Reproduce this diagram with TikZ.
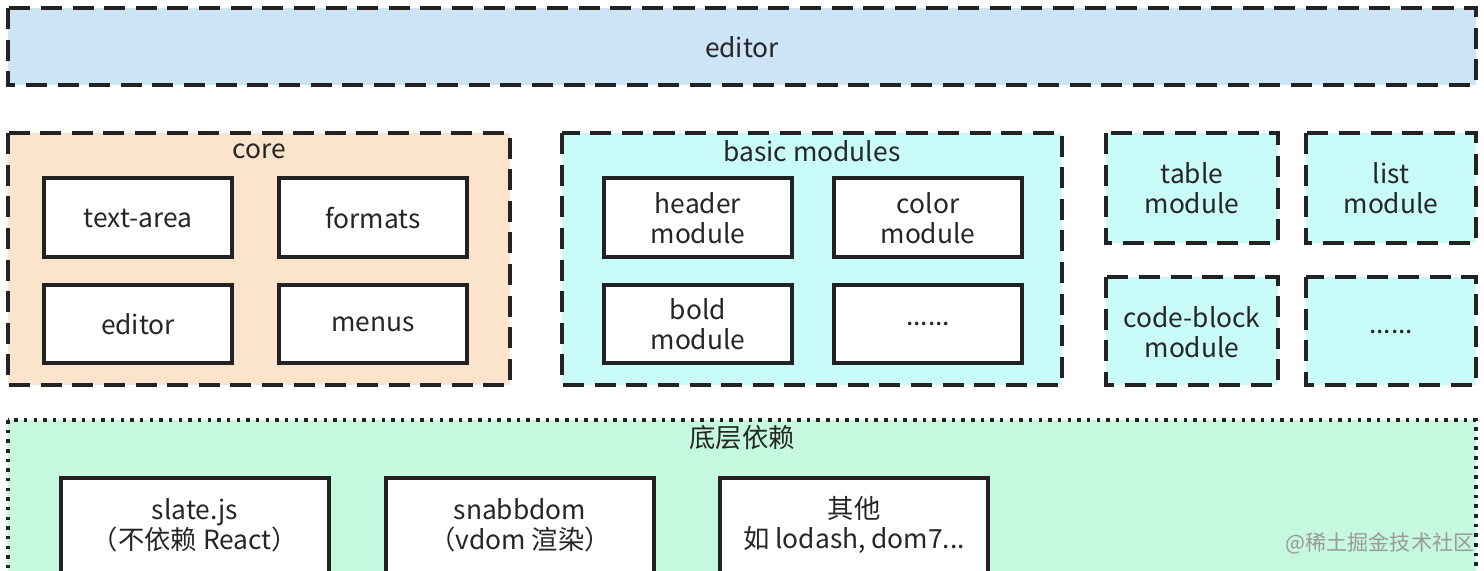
\documentclass[tikz,border=0pt]{standalone}
\usepackage{fontspec}
\setmainfont{Noto Sans CJK SC}
\usetikzlibrary{positioning}
\definecolor{edblue}{HTML}{CDE3F6}
\definecolor{corebg}{HTML}{FCE3CC}
\definecolor{modbg}{HTML}{C9FBF8}
\definecolor{depbg}{HTML}{C6F8E0}
\definecolor{linedark}{HTML}{222222}
\begin{document}
\begin{tikzpicture}[
    x=0.02cm, y=-0.02cm,
    group/.style={draw=linedark, line width=2pt, dash pattern=on 12pt off 6pt},
    dotgroup/.style={draw=linedark, line width=2pt, dash pattern=on 2pt off 3.5pt},
    box/.style={draw=linedark, fill=white, line width=1.8pt},
    txt/.style={align=center, font=\fontsize{15}{17}\selectfont, text=black!85}
]
\useasboundingbox[fill=white] (0,0) rectangle (1484,571);
% editor layer
\draw[group, fill=edblue] (8,8) rectangle (1476,85);
\node[txt] (editor) at (742,47) {editor};

% core
\draw[group, fill=corebg] (8,133) rectangle (510,385);
\node[txt] (core) at (259,151) {core};
\draw[box] (44,178) rectangle (232,257);
\node[txt] (textarea) at (138,218) {text-area};
\draw[box] (279,178) rectangle (467,257);
\node[txt] (formats) at (373,218) {formats};
\draw[box] (44,285) rectangle (232,363);
\node[txt] (coreeditor) at (138,324) {editor};
\draw[box] (279,285) rectangle (467,363);
\node[txt] (menus) at (373,324) {menus};

% basic modules
\draw[group, fill=modbg] (562,133) rectangle (1062,385);
\node[txt] (basic) at (812,151) {basic modules};
\draw[box] (604,178) rectangle (792,257);
\node[txt] (header) at (698,218) {header\\module};
\draw[box] (834,178) rectangle (1022,257);
\node[txt] (color) at (928,218) {color\\module};
\draw[box] (604,285) rectangle (792,363);
\node[txt] (bold) at (698,324) {bold\\module};
\draw[box] (834,285) rectangle (1022,363);
\node[txt] (moremods) at (928,324) {......};

% other modules
\draw[group, fill=modbg] (1106,133) rectangle (1278,243);
\node[txt] (table) at (1192,188) {table\\module};
\draw[group, fill=modbg] (1306,133) rectangle (1476,243);
\node[txt] (list) at (1391,188) {list\\module};
\draw[group, fill=modbg] (1106,277) rectangle (1278,385);
\node[txt] (codeblock) at (1192,332) {code-block\\module};
\draw[group, fill=modbg] (1306,277) rectangle (1476,385);
\node[txt] (moreext) at (1391,332) {......};

% dependencies
\draw[dotgroup, fill=depbg] (8,420) rectangle (1476,590);
\node[txt] (deps) at (742,438) {底层依赖};
\draw[box] (61,478) rectangle (329,590);
\node[txt] (slate) at (195,525) {slate.js\\（不依赖 React）};
\draw[box] (386,478) rectangle (654,590);
\node[txt] (snabb) at (520,525) {snabbdom\\（vdom 渲染）};
\draw[box] (720,478) rectangle (988,590);
\node[txt] (others) at (854,525) {其他\\如 lodash, dom7...};
\node[font=\fontsize{12}{14}\selectfont, text=black!40] (mark) at (1380,543) {@稀土掘金技术社区};
\end{tikzpicture}
\end{document}
